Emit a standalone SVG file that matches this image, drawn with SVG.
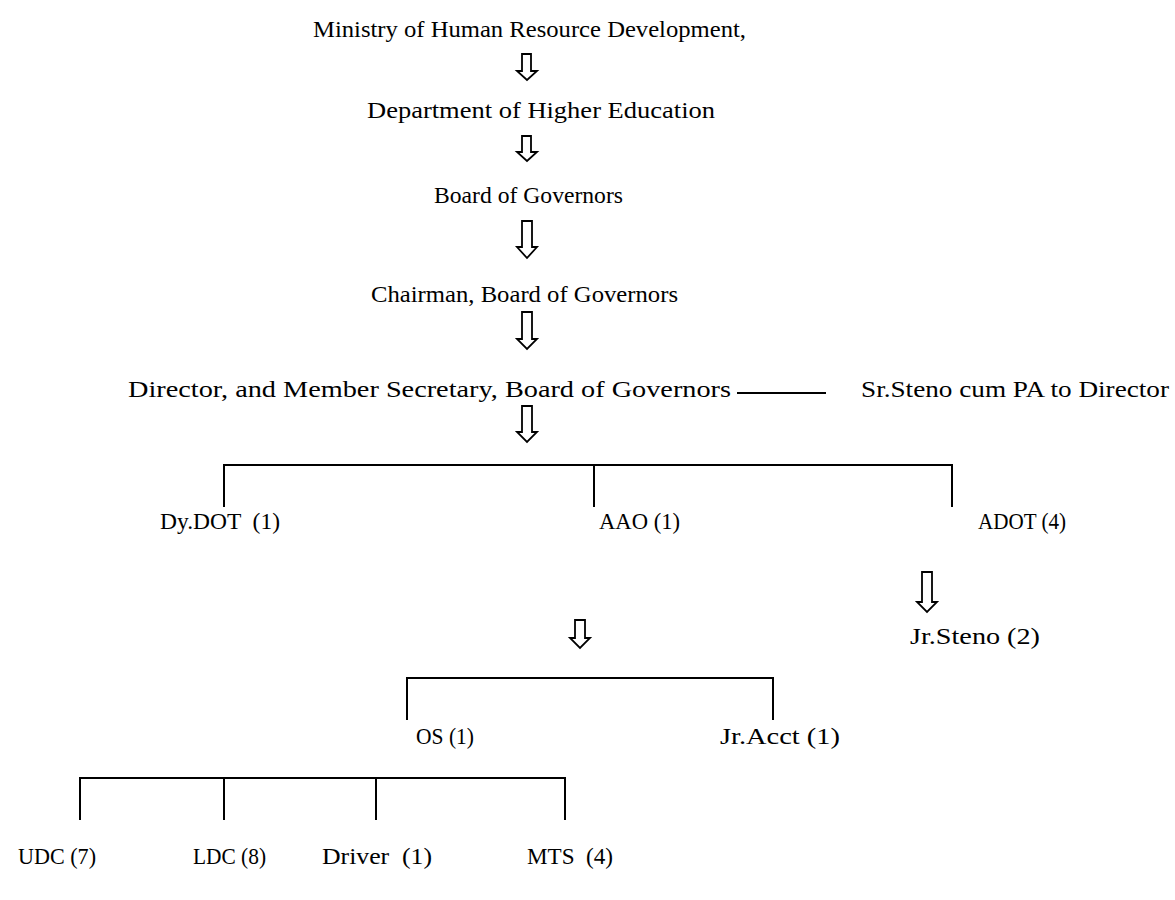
<svg xmlns="http://www.w3.org/2000/svg" width="1175" height="900" viewBox="0 0 1175 900">
<style>
text{font-family:"Liberation Serif","Times New Roman",serif;font-size:24px;fill:#000;white-space:pre}
.ln{stroke:#000;stroke-width:2;fill:none}
.ar{stroke:#000;stroke-width:1.8;fill:#fff;stroke-linejoin:miter}
</style>
<rect width="1175" height="900" fill="#fff"/>
<g id="n-ministry"><text x="313" y="37" textLength="433" lengthAdjust="spacingAndGlyphs">Ministry of Human Resource Development,</text></g>
<g id="n-dept"><text x="367" y="118" textLength="348" lengthAdjust="spacingAndGlyphs">Department of Higher Education</text></g>
<g id="n-board"><text x="434" y="203" textLength="189" lengthAdjust="spacingAndGlyphs">Board of Governors</text></g>
<g id="n-chair"><text x="371" y="302" textLength="307" lengthAdjust="spacingAndGlyphs">Chairman, Board of Governors</text></g>
<g id="n-director"><text x="128" y="397" textLength="603" lengthAdjust="spacingAndGlyphs">Director, and Member Secretary, Board of Governors</text></g>
<g id="n-srsteno"><text x="861" y="397" textLength="308" lengthAdjust="spacingAndGlyphs">Sr.Steno cum PA to Director</text></g>
<g id="n-dydot"><text x="160" y="529" textLength="120" lengthAdjust="spacingAndGlyphs">Dy.DOT  (1)</text></g>
<g id="n-aao"><text x="599" y="529" textLength="81" lengthAdjust="spacingAndGlyphs">AAO (1)</text></g>
<g id="n-adot"><text x="978" y="529" textLength="88" lengthAdjust="spacingAndGlyphs">ADOT (4)</text></g>
<g id="n-jrsteno"><text x="910" y="644" textLength="130" lengthAdjust="spacingAndGlyphs">Jr.Steno (2)</text></g>
<g id="n-os"><text x="416" y="744" textLength="58" lengthAdjust="spacingAndGlyphs">OS (1)</text></g>
<g id="n-jracct"><text x="720" y="744" textLength="120" lengthAdjust="spacingAndGlyphs">Jr.Acct (1)</text></g>
<g id="n-udc"><text x="18" y="864" textLength="78" lengthAdjust="spacingAndGlyphs">UDC (7)</text></g>
<g id="n-ldc"><text x="193" y="864" textLength="73" lengthAdjust="spacingAndGlyphs">LDC (8)</text></g>
<g id="n-driver"><text x="322" y="864" textLength="110" lengthAdjust="spacingAndGlyphs">Driver  (1)</text></g>
<g id="n-mts"><text x="527" y="864" textLength="86" lengthAdjust="spacingAndGlyphs">MTS  (4)</text></g>
<g id="connectors">
<path class="ar" d="M522,54 V71 H517 L527,80 L537,71 H531 V54 Z"/>
<path class="ar" d="M522,136 V152 H517 L527,161 L537,152 H531 V136 Z"/>
<path class="ar" d="M522,221 V247 H517 L527,258 L537,247 H532 V221 Z"/>
<path class="ar" d="M522,312 V339 H517 L527,349 L537,339 H532 V312 Z"/>
<path class="ar" d="M522,406 V432 H517 L527,442 L537,432 H532 V406 Z"/>
<path class="ar" d="M922,572 V602 H917 L927,612 L937,602 H932 V572 Z"/>
<path class="ar" d="M575,620 V638 H570 L580,648 L590,638 H585 V620 Z"/>
<line class="ln" x1="737" y1="393" x2="826" y2="393"/>
<path class="ln" d="M224,507 V465 H952 V507 M594,465 V507"/>
<path class="ln" d="M407,720 V678 H773 V720"/>
<path class="ln" d="M80,820 V778 H565 V820 M224,778 V820 M376,778 V820"/>
</g>
</svg>
